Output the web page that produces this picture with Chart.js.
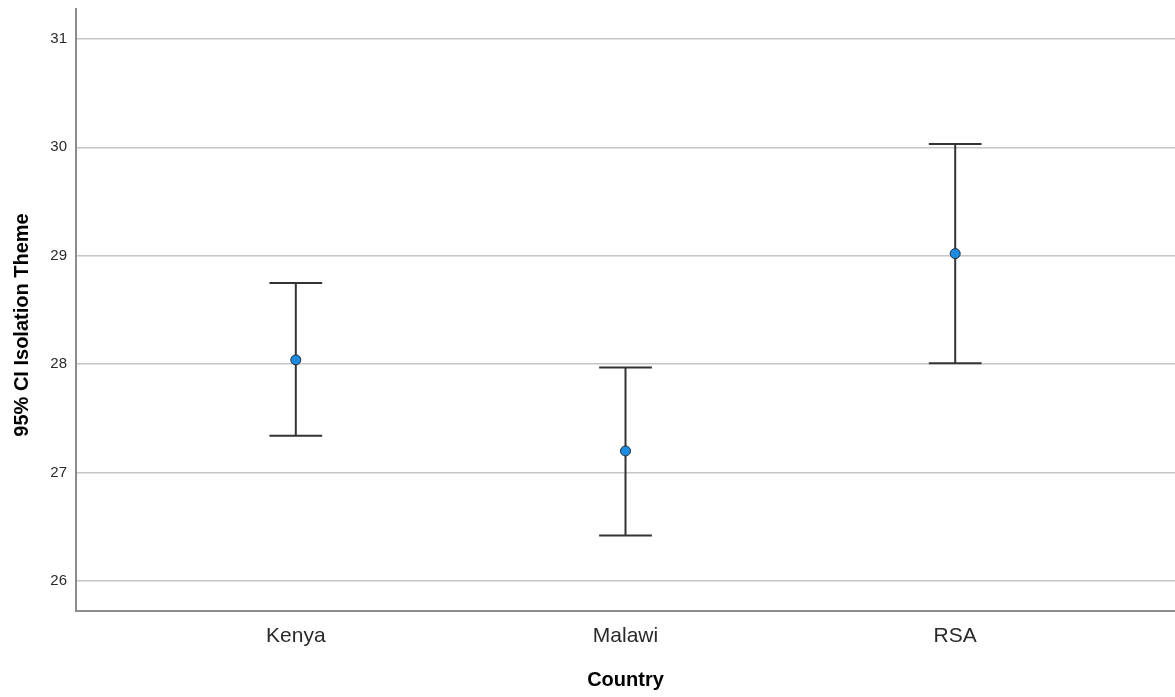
<!DOCTYPE html>
<html>
<head>
<meta charset="utf-8">
<script src="https://cdn.jsdelivr.net/npm/chart.js@4/dist/chart.umd.min.js"></script>
<style>
  html, body { margin: 0; padding: 0; background: #ffffff; }
  #wrap { width: 1175px; height: 697px; }
</style>
</head>
<body>
<div id="wrap"><canvas id="c" width="1175" height="697"></canvas></div>
<script>
// Group means with 95% confidence limits per country
const countries = ['Kenya', 'Malawi', 'RSA'];
const means = [28.04, 27.20, 29.02];
const ciLower = [27.34, 26.42, 28.01];
const ciUpper = [28.75, 27.97, 30.03];
const yTicks = [26, 27, 28, 29, 30, 31];
const yAxisTitle = '95% CI Isolation Theme';
const xAxisTitle = 'Country';

// half width of the whisker caps, in category units
const capHalf = 0.08;
const barColor = '#333333';
const fontFamily = '"Liberation Sans", Arial, sans-serif';

const datasets = [];
countries.forEach((c, i) => {
  const lineStyle = {
    type: 'scatter', showLine: true, pointRadius: 0, pointHoverRadius: 0,
    borderColor: barColor, borderWidth: 2, order: 1
  };
  // vertical whisker
  datasets.push(Object.assign({ data: [{ x: i, y: ciLower[i] }, { x: i, y: ciUpper[i] }] }, lineStyle));
  // upper cap
  datasets.push(Object.assign({ data: [{ x: i - capHalf, y: ciUpper[i] }, { x: i + capHalf, y: ciUpper[i] }] }, lineStyle));
  // lower cap
  datasets.push(Object.assign({ data: [{ x: i - capHalf, y: ciLower[i] }, { x: i + capHalf, y: ciLower[i] }] }, lineStyle));
});
// mean markers on top
datasets.push({
  type: 'scatter',
  data: means.map((m, i) => ({ x: i, y: m })),
  pointRadius: 5,
  pointBackgroundColor: '#1c8be3',
  pointBorderColor: '#1f2a33',
  pointBorderWidth: 1,
  order: 0
});

// rotated title for the value axis
const yTitlePlugin = {
  id: 'yTitle',
  afterDraw(chart) {
    const ctx = chart.ctx;
    ctx.save();
    ctx.translate(22, 325);
    ctx.rotate(-Math.PI / 2);
    ctx.font = 'bold 20px ' + fontFamily;
    ctx.fillStyle = '#000000';
    ctx.textAlign = 'center';
    ctx.textBaseline = 'middle';
    ctx.fillText(yAxisTitle, 0, 0);
    ctx.restore();
  }
};

// no extra room for overhanging edge labels
function noEdgePadding(s) {
  s.paddingTop = 0; s.paddingBottom = 0; s.paddingLeft = 0; s.paddingRight = 0;
}

new Chart(document.getElementById('c'), {
  type: 'scatter',
  data: { datasets },
  plugins: [yTitlePlugin],
  options: {
    responsive: false,
    animation: false,
    layout: { autoPadding: false, padding: { top: 9, right: 0, bottom: 0, left: 0 } },
    plugins: { legend: { display: false }, tooltip: { enabled: false } },
    scales: {
      x: {
        type: 'linear',
        min: -2 / 3,
        max: 8 / 3,
        afterBuildTicks: s => { s.ticks = countries.map((_, i) => ({ value: i })); },
        afterFit: s => { s.height = 86; noEdgePadding(s); },
        grid: { display: false, drawTicks: false },
        border: { display: true, color: '#8c8c8c', width: 2 },
        ticks: {
          padding: 13,
          color: '#2a2a2a',
          font: { family: fontFamily, size: 21 },
          callback: v => countries[v]
        },
        title: {
          display: true,
          text: xAxisTitle,
          color: '#000000',
          font: { family: fontFamily, size: 20, weight: 'bold' },
          padding: { top: 0, bottom: 5 }
        }
      },
      y: {
        type: 'linear',
        min: 25.724,
        max: 31.276,
        afterBuildTicks: s => { s.ticks = yTicks.map(v => ({ value: v })); },
        afterFit: s => { s.width = 76; noEdgePadding(s); },
        grid: { color: '#c6c6c6', lineWidth: 1.5, drawTicks: false },
        border: { display: true, color: '#8c8c8c', width: 2 },
        ticks: {
          padding: 9,
          color: '#2a2a2a',
          font: { family: fontFamily, size: 15 }
        }
      }
    }
  }
});
</script>
</body>
</html>
